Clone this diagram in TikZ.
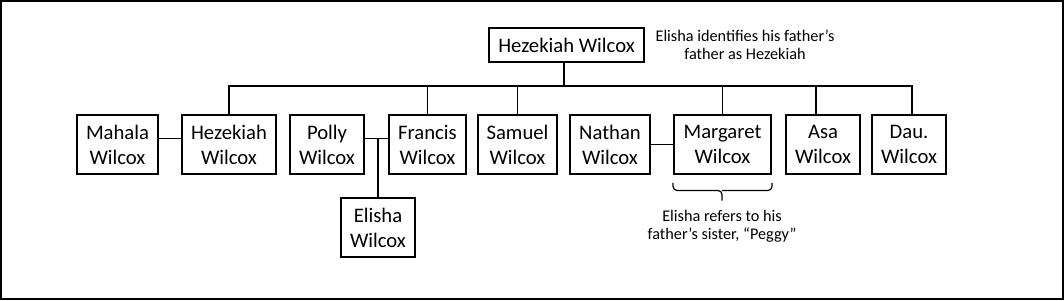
\documentclass[tikz,border=0pt]{standalone}
\usepackage{fontspec}
\setmainfont{Carlito}

\tikzset{every picture/.style={line width=1.4pt}}
\tikzset{person/.style={draw, line width=1.4pt, align=center, inner sep=0pt, minimum height=44.25pt, font=\fontsize{15.5}{18.75}\selectfont},
  note/.style={align=center, inner sep=0pt, font=\fontsize{12.2}{13.5}\selectfont}}

\begin{document}
\begin{tikzpicture}[x=0.75pt,y=0.75pt,yscale=-1,xscale=1]
\useasboundingbox (0,0) rectangle (1064,300);
%Frame
\draw (1,1) rectangle (1063,299);

% Top generation
\node [person, minimum width=116.25pt, minimum height=25.5pt] (hezekiahsr) at (566.5,45) {Hezekiah Wilcox};
\node [note] (note1) at (745,45) {Elisha identifies his father’s\\father as Hezekiah};

% Children and spouses
\node [person, minimum width=60.75pt] (mahala) at (117.5,144.5) {Mahala\\Wilcox};
\node [person, minimum width=70.5pt] (hezekiah) at (229,144.5) {Hezekiah\\Wilcox};
\node [person, minimum width=55.5pt] (polly) at (327,144.5) {Polly\\Wilcox};
\node [person, minimum width=57.75pt] (francis) at (427.5,144.5) {Francis\\Wilcox};
\node [person, minimum width=59.25pt] (samuel) at (517.5,144.5) {Samuel\\Wilcox};
\node [person, minimum width=60pt] (nathan) at (610,144.5) {Nathan\\Wilcox};
\node [person, minimum width=72.75pt] (margaret) at (722.5,144.5) {Margaret\\Wilcox};
\node [person, minimum width=55.5pt] (asa) at (823,144.5) {Asa\\Wilcox};
\node [person, minimum width=55.5pt] (dau) at (909,144.5) {Dau.\\Wilcox};

% Grandchild
\node [person, minimum width=55.5pt] (elisha) at (378,227.5) {Elisha\\Wilcox};

% Descent lines
\coordinate (bus) at (564,86);
\draw (hezekiahsr.south -| bus) -- (bus);
\draw (hezekiah.north) |- (bus) -| ([xshift=2]dau.north);
\draw (francis.north) -- (francis.north |- bus);
\draw (samuel.north) -- (samuel.north |- bus);
\draw (margaret.north) -- (margaret.north |- bus);
\draw ([xshift=-5]asa.north) -- ([xshift=-5]asa.north |- bus);

% Marriages
\coordinate (wed) at ([yshift=-4.5]polly.east);
\draw ([yshift=-4.5]mahala.east) -- ([yshift=-4.5]hezekiah.west);
\draw (wed) -- ([yshift=-4.5]francis.west);
\draw (nathan.east) -- (margaret.west);
\draw (elisha.north) -- (elisha.north |- wed);

% Brace
\draw [line width=0.9pt, rounded corners=3] ([yshift=6]margaret.south west) |- (722,190.5) -- (722,200.5);
\draw [line width=0.9pt, rounded corners=3] ([yshift=6]margaret.south east) |- (722,190.5);
\node [note] (note2) at (722,226) {Elisha refers to his\\father’s sister, “Peggy”};

\end{tikzpicture}
\end{document}
